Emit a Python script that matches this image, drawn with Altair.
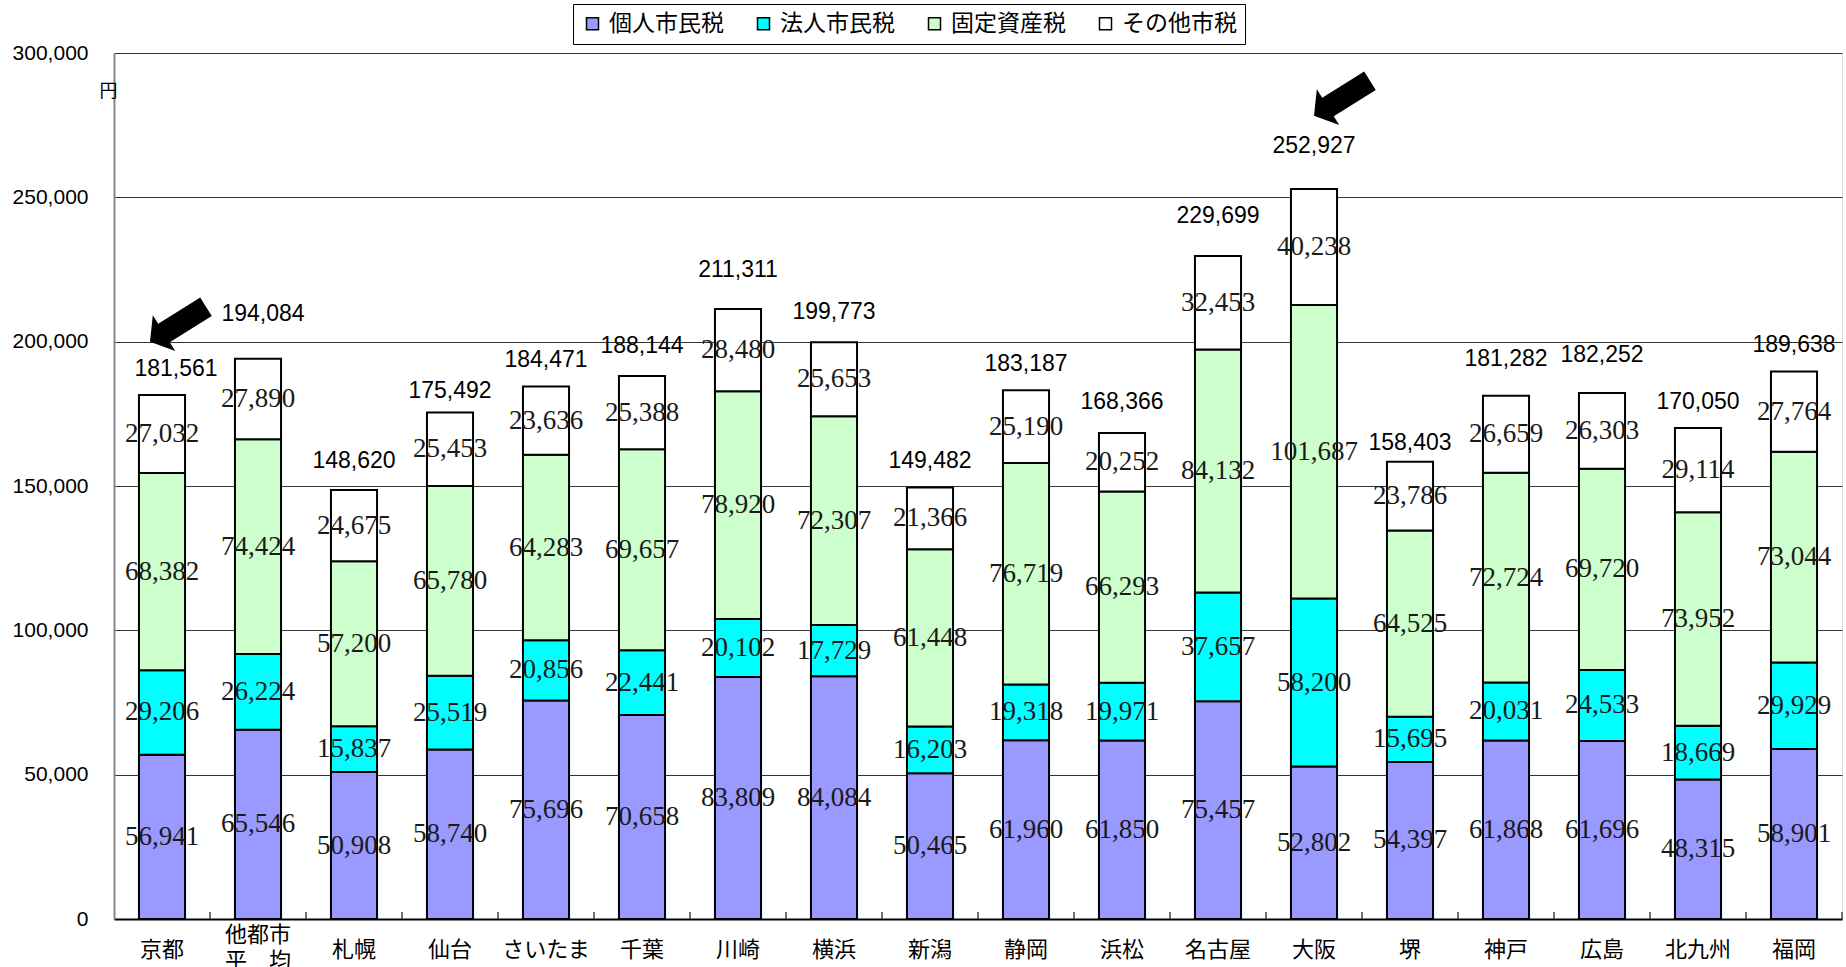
import altair as alt
import pandas as pd

# ---- data -------------------------------------------------------------
cities = ["京都", "他都市\n平　均", "札幌", "仙台", "さいたま", "千葉", "川崎", "横浜", "新潟",
          "静岡", "浜松", "名古屋", "大阪", "堺", "神戸", "広島", "北九州", "福岡"]

tax_names = ["個人市民税", "法人市民税", "固定資産税", "その他市税"]
tax_colors = ["#9999FF", "#00FFFF", "#CCFFCC", "#FFFFFF"]

individual = [56941, 65546, 50908, 58740, 75696, 70658, 83809, 84084, 50465,
              61960, 61850, 75457, 52802, 54397, 61868, 61696, 48315, 58901]
corporate = [29206, 26224, 15837, 25519, 20856, 22441, 20102, 17729, 16203,
             19318, 19971, 37657, 58200, 15695, 20031, 24533, 18669, 29929]
property_tax = [68382, 74424, 57200, 65780, 64283, 69657, 78920, 72307, 61448,
                76719, 66293, 84132, 101687, 64525, 72724, 69720, 73952, 73044]
other = [27032, 27890, 24675, 25453, 23636, 25388, 28480, 25653, 21366,
         25190, 20252, 32453, 40238, 23786, 26659, 26303, 29114, 27764]

# total-label nudges: pixels above the bar top, pixels to the right
total_lift = [26, 45, 29, 21, 26, 30, 39, 30, 26, 26, 31, 40, 43, 19, 37, 38, 26, 27]
total_shift = [14, 5, 0, 0, 0, 0, 0, 0, 0, 0, 0, 0, 0, 0, 0, 0, 0, 0]

# highlight arrows: category index, yen level of the arrow centre, pixel shift right
arrow_city = [0, 12]
arrow_level = [206000, 284300]
arrow_shift = [16, 28]

# ---- layout -----------------------------------------------------------
W, H = 1728, 866
Y_MAX = 300000
STEP = W / len(cities)

rows = []
series = [individual, corporate, property_tax, other]
for i, c in enumerate(cities):
    for k, (name, vals) in enumerate(zip(tax_names, series)):
        rows.append(dict(city=c, idx=i, k=k, tax=name, value=vals[i],
                         lift=total_lift[i], shift=total_shift[i]))
df = pd.DataFrame(rows)

ticks_df = pd.DataFrame({"pos": [i + 1 for i in range(len(cities))]})
arrows_df = pd.DataFrame({
    "pos": [arrow_city[j] + 0.5 + arrow_shift[j] / STEP for j in range(len(arrow_city))],
    "level": arrow_level,
})

JP = "Noto Sans CJK JP"
y_scale = alt.Scale(domain=[0, Y_MAX], nice=False, zero=True)
xq_scale = alt.Scale(domain=[0, len(cities)], nice=False, zero=False)
band_scale = alt.Scale(paddingInner=0.52, paddingOuter=0.26)

x_axis = alt.Axis(
    title=None, labelAngle=0, labelFont=JP, labelFontSize=22, labelColor="black",
    labelExpr="split(datum.label, '\\n')", labelLineHeight=26, labelBaseline="middle",
    labelPadding={"condition": {"test": "indexof(datum.label, '\\n') >= 0", "value": 15},
                  "value": 30},
    ticks=False, tickSize=0, domainColor="black", domainWidth=2,
    grid=False, labelLimit=200,
)
y_axis = alt.Axis(
    values=[0, 50000, 100000, 150000, 200000, 250000, 300000],
    labelExpr="format(datum.value, ',')",
    labelFont="Liberation Sans", labelFontSize=21, labelColor="black",
    labelPadding=26, ticks=False, tickSize=0,
    domainColor="#888888", domainWidth=2,
    grid=True, gridColor="#333333", gridWidth=1,
    title="円", titleAngle=0, titleX=-6, titleY=38, titleAlign="center",
    titleBaseline="middle", titleFont=JP, titleFontSize=18,
    titleFontWeight="normal", titleColor="black",
)

base = alt.Chart(df).transform_stack(
    stack="value", groupby=["city"], as_=["y0", "y1"],
    sort=[alt.SortField("k", order="ascending")],
).transform_calculate(mid="(datum.y0 + datum.y1) / 2")

bars = base.mark_bar(stroke="black", strokeWidth=2).encode(
    x=alt.X("city:N", sort=cities, scale=band_scale, axis=x_axis),
    y=alt.Y("y0:Q", scale=y_scale, axis=y_axis),
    y2="y1:Q",
    color=alt.Color(
        "tax:N",
        scale=alt.Scale(domain=tax_names, range=tax_colors),
        legend=alt.Legend(
            orient="none", legendX=459, legendY=-49, direction="horizontal",
            columns=4, title=None, symbolType="square", symbolSize=144,
            symbolStrokeColor="black", symbolStrokeWidth=1.5, symbolOpacity=1,
            labelFont=JP, labelFontSize=23, labelColor="black", labelOffset=5,
            labelLimit=300, columnPadding=28, padding=8,
            strokeColor="black", fillColor="white",
        ),
    ),
    order=alt.Order("k:Q"),
)

segment_labels = base.mark_text(
    font="Liberation Serif", fontSize=27, color="#1a1a1a", baseline="middle"
).encode(
    x=alt.X("city:N", sort=cities, scale=band_scale, axis=x_axis),
    y=alt.Y("mid:Q", scale=y_scale, axis=y_axis),
    text=alt.Text("value:Q", format=","),
)

total_labels = base.transform_filter("datum.k == 3").transform_calculate(
    pos=f"datum.idx + 0.5 + datum.shift / {STEP}",
    ylab=f"datum.y1 + datum.lift * {Y_MAX} / {H}",
).mark_text(
    font="Liberation Sans", fontSize=23, color="black", baseline="middle"
).encode(
    x=alt.X("pos:Q", scale=xq_scale, axis=None),
    y=alt.Y("ylab:Q", scale=y_scale, axis=y_axis),
    text=alt.Text("y1:Q", format=","),
)

# small inward ticks on the category axis between the bars
cat_ticks = alt.Chart(ticks_df).mark_rule(color="#444444", strokeWidth=1.5).encode(
    x=alt.X("pos:Q", scale=xq_scale, axis=None),
    y=alt.datum(0, scale=y_scale, axis=y_axis),
    y2=alt.datum(2400),
)

ARROW = "M -1 -0.33 L 0.5 -0.33 L 0.5 -0.64 L 1 0 L 0.5 0.64 L 0.5 0.33 L -1 0.33 Z"
arrows = alt.Chart(arrows_df).mark_point(
    shape=ARROW, size=4356, angle=148, filled=True, color="black",
    opacity=1, strokeWidth=0,
).encode(
    x=alt.X("pos:Q", scale=xq_scale, axis=None),
    y=alt.Y("level:Q", scale=y_scale, axis=y_axis),
)

band_layers = alt.layer(bars, segment_labels)
chart = alt.layer(band_layers, cat_ticks, total_labels, arrows).resolve_scale(
    x="independent"
).properties(
    width=W, height=H,
    padding={"left": 114, "top": 53, "right": 4, "bottom": 48},
    autosize=alt.AutoSizeParams(type="none"),
).configure_view(
    stroke="#888888", strokeWidth=2
).configure(background="white")

chart.save("out.html", embed_options={"renderer": "svg", "actions": False})
